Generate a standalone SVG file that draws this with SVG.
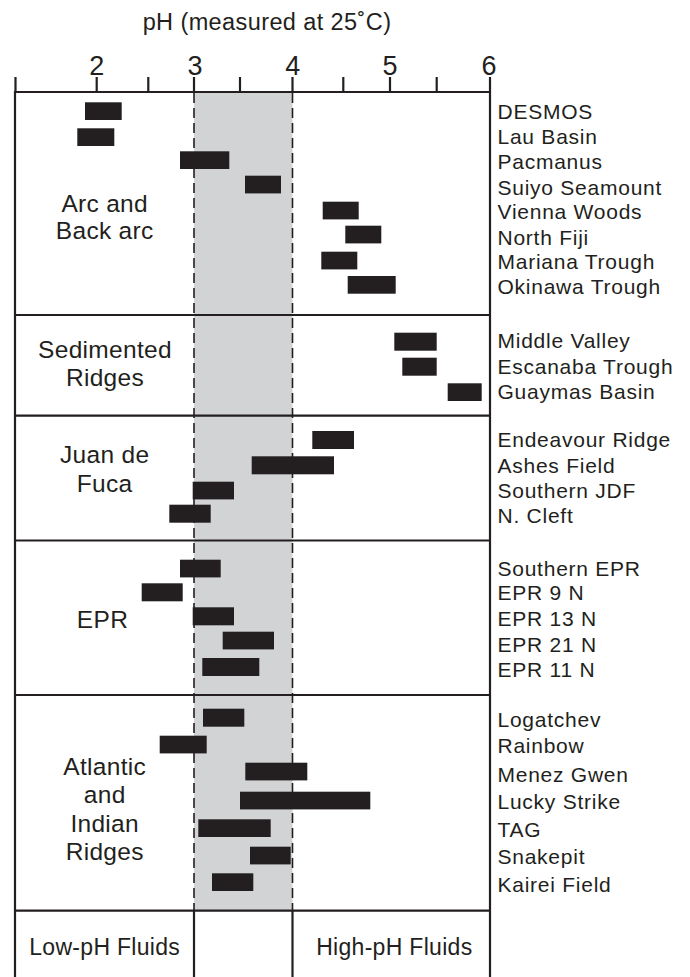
<svg xmlns="http://www.w3.org/2000/svg" width="690" height="977" viewBox="0 0 690 977">
<style>
text{font-family:"Liberation Sans",Arial,Helvetica,sans-serif;fill:#231f20}
.t{font-size:23.5px;text-anchor:middle;letter-spacing:0.4px}
.num{font-size:27px;text-anchor:middle}
.grp{font-size:24.5px;text-anchor:middle;letter-spacing:0.3px}
.nm{font-size:21px;letter-spacing:0.75px}
.ft{font-size:23px;text-anchor:middle;letter-spacing:0.3px}
.bar{fill:#231f20}
.ln{stroke:#231f20;stroke-width:2.2;fill:none}
.dash{stroke:#231f20;stroke-width:1.6;stroke-dasharray:10 5;fill:none}
</style>
<rect width="690" height="977" fill="#fff"/>
<g id="axis">
<text class="t" x="267" y="30">pH (measured at 25˚C)</text>
<text class="num" x="96.7" y="75">2</text>
<text class="num" x="195" y="75">3</text>
<text class="num" x="292.7" y="75">4</text>
<text class="num" x="390" y="75">5</text>
<text class="num" x="489" y="75">6</text>
<path class="ln" d="M15.5 77V92M96.7 77V92M148.3 77V92M194 77V92M240 77V92M292.5 77V92M343.3 77V92M390 77V92M436.7 77V92M490 77V92"/>
</g>
<g id="band">
<rect x="194" y="92" width="98.5" height="818.7" fill="#d1d3d4"/>
</g>
<g id="frame">
<path class="ln" d="M15 92H490M15 315H490M15 415.7H490M15 540.5H490M15 695H490M15 910.7H490M15 91V978M490 91V978"/>
<path class="ln" d="M194 910.7V978M292.5 910.7V978"/>
<path class="dash" d="M194 93V910M292.5 93V910"/>
</g>
<g id="arc">
<text class="grp" x="104.7" y="211.7">Arc and</text>
<text class="grp" x="104.7" y="239.3">Back arc</text>
<g id="desmos"><rect class="bar" x="85" y="102.3" width="36.7" height="17.7"/><text class="nm" x="497.5" y="119.3">DESMOS</text></g>
<g id="lau"><rect class="bar" x="77.3" y="128.3" width="37" height="17.7"/><text class="nm" x="497.5" y="144.3">Lau Basin</text></g>
<g id="pacmanus"><rect class="bar" x="180" y="151.3" width="49.3" height="17.7"/><text class="nm" x="497.5" y="169.3">Pacmanus</text></g>
<g id="suiyo"><rect class="bar" x="245" y="175.7" width="36" height="17.7"/><text class="nm" x="497.5" y="195">Suiyo Seamount</text></g>
<g id="vienna"><rect class="bar" x="322.7" y="201.7" width="36" height="17.7"/><text class="nm" x="497.5" y="219.3">Vienna Woods</text></g>
<g id="fiji"><rect class="bar" x="345.3" y="225.7" width="36" height="17.7"/><text class="nm" x="497.5" y="245">North Fiji</text></g>
<g id="mariana"><rect class="bar" x="321.3" y="251.7" width="36" height="17.7"/><text class="nm" x="497.5" y="269.3">Mariana Trough</text></g>
<g id="okinawa"><rect class="bar" x="347.7" y="276" width="48" height="17.7"/><text class="nm" x="497.5" y="294.3">Okinawa Trough</text></g>
</g>
<g id="sedimented">
<text class="grp" x="105" y="358.3">Sedimented</text>
<text class="grp" x="105" y="386">Ridges</text>
<g id="middle"><rect class="bar" x="394.3" y="332.7" width="42.4" height="18"/><text class="nm" x="497.5" y="348.3">Middle Valley</text></g>
<g id="escanaba"><rect class="bar" x="402.3" y="357.7" width="34.4" height="18"/><text class="nm" x="497.5" y="374">Escanaba Trough</text></g>
<g id="guaymas"><rect class="bar" x="447.7" y="383.3" width="34" height="17.7"/><text class="nm" x="497.5" y="399.3">Guaymas Basin</text></g>
</g>
<g id="jdf">
<text class="grp" x="104.7" y="463.3">Juan de</text>
<text class="grp" x="104.7" y="491.7">Fuca</text>
<g id="endeavour"><rect class="bar" x="312.3" y="431" width="41.7" height="18"/><text class="nm" x="497.5" y="446.7">Endeavour Ridge</text></g>
<g id="ashes"><rect class="bar" x="251.7" y="456.3" width="82.3" height="18"/><text class="nm" x="497.5" y="472.7">Ashes Field</text></g>
<g id="sjdf"><rect class="bar" x="192.7" y="481.7" width="41.3" height="17.7"/><text class="nm" x="497.5" y="498.3">Southern JDF</text></g>
<g id="ncleft"><rect class="bar" x="169.3" y="504.7" width="41.4" height="18"/><text class="nm" x="497.5" y="523.3">N. Cleft</text></g>
</g>
<g id="epr">
<text class="grp" x="102.5" y="628.3">EPR</text>
<g id="sepr"><rect class="bar" x="180" y="559.7" width="40.7" height="17.7"/><text class="nm" x="497.5" y="576">Southern EPR</text></g>
<g id="epr9"><rect class="bar" x="141.7" y="583.3" width="41" height="18"/><text class="nm" x="497.5" y="600">EPR 9 N</text></g>
<g id="epr13"><rect class="bar" x="192.7" y="607.3" width="41.3" height="18"/><text class="nm" x="497.5" y="626">EPR 13 N</text></g>
<g id="epr21"><rect class="bar" x="222.7" y="631.7" width="51.3" height="17.7"/><text class="nm" x="497.5" y="651.7">EPR 21 N</text></g>
<g id="epr11"><rect class="bar" x="202.3" y="658" width="57" height="18"/><text class="nm" x="497.5" y="676.7">EPR 11 N</text></g>
</g>
<g id="atlantic">
<text class="grp" x="104.7" y="775">Atlantic</text>
<text class="grp" x="104.7" y="803.3">and</text>
<text class="grp" x="104.7" y="831.7">Indian</text>
<text class="grp" x="104.7" y="860">Ridges</text>
<g id="logatchev"><rect class="bar" x="203" y="708.7" width="41.3" height="18"/><text class="nm" x="497.5" y="726.7">Logatchev</text></g>
<g id="rainbow"><rect class="bar" x="159.7" y="735.7" width="47" height="17.7"/><text class="nm" x="497.5" y="752.7">Rainbow</text></g>
<g id="menez"><rect class="bar" x="245.3" y="762.7" width="62" height="17.7"/><text class="nm" x="497.5" y="781.7">Menez Gwen</text></g>
<g id="lucky"><rect class="bar" x="240" y="791.7" width="130.3" height="17.7"/><text class="nm" x="497.5" y="809.3">Lucky Strike</text></g>
<g id="tag"><rect class="bar" x="198.3" y="819.3" width="72.4" height="17.7"/><text class="nm" x="497.5" y="836.7">TAG</text></g>
<g id="snakepit"><rect class="bar" x="250" y="846.7" width="40.7" height="17.7"/><text class="nm" x="497.5" y="864.3">Snakepit</text></g>
<g id="kairei"><rect class="bar" x="212" y="873.3" width="41.3" height="17.7"/><text class="nm" x="497.5" y="892.3">Kairei Field</text></g>
</g>
<g id="fluids">
<text class="ft" x="104.7" y="955">Low-pH Fluids</text>
<text class="ft" x="394.3" y="955">High-pH Fluids</text>
</g>
</svg>
